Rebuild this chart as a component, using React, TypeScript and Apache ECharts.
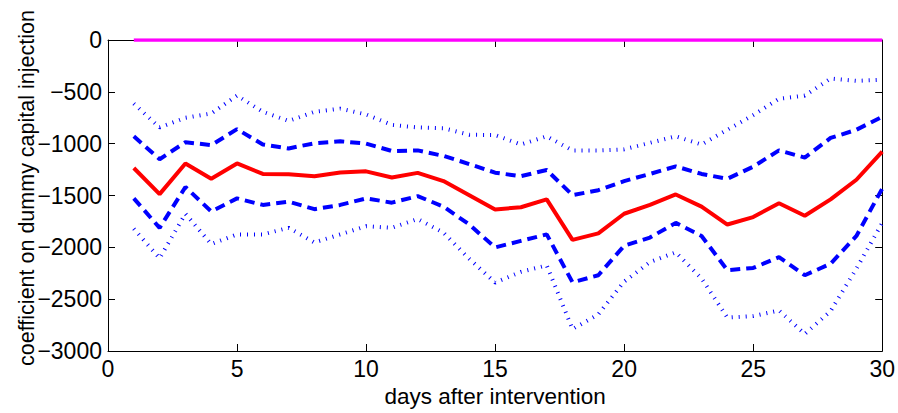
import React, { useEffect, useRef } from "react";
import * as echarts from "echarts";

const days = Array.from({ length: 30 }, (_, i) => i + 1);

const estimate = [
  -1235, -1487, -1191, -1339, -1191, -1292, -1295, -1314, -1279, -1267,
  -1326, -1282, -1361, -1497, -1635, -1613, -1537, -1928, -1865, -1676,
  -1591, -1490, -1607, -1780, -1708, -1575, -1695, -1537, -1348, -1077,
];

const upperDashed = [
  -929, -1150, -986, -1014, -860, -1008, -1046, -996, -977, -999,
  -1071, -1065, -1118, -1197, -1280, -1314, -1254, -1497, -1449, -1361,
  -1292, -1219, -1292, -1339, -1222, -1065, -1134, -945, -866, -740,
];

const lowerDashed = [
  -1528, -1812, -1418, -1654, -1528, -1591, -1560, -1632, -1591, -1528,
  -1569, -1506, -1607, -1780, -2001, -1938, -1875, -2338, -2269, -1985,
  -1906, -1764, -1890, -2221, -2199, -2095, -2269, -2158, -1890, -1434,
];

const upperDotted = [
  -614, -844, -750, -709, -536, -693, -781, -693, -662, -718,
  -819, -844, -851, -914, -917, -1008, -929, -1065, -1065, -1055,
  -992, -929, -1008, -866, -725, -567, -536, -372, -394, -384,
];

const lowerDotted = [
  -1821, -2105, -1676, -1969, -1875, -1875, -1812, -1953, -1875, -1796,
  -1812, -1726, -1859, -2111, -2340, -2237, -2174, -2788, -2647, -2331,
  -2142, -2048, -2300, -2678, -2663, -2609, -2836, -2615, -2206, -1765,
];

const zeroLine = days.map(() => 0);

const xTicks = [0, 5, 10, 15, 20, 25, 30];
const yTicks = [0, -500, -1000, -1500, -2000, -2500, -3000];

const xTitle = "days after intervention";
const yTitle = "coefficient on dummy capital injection";

const FONT = "'Liberation Sans', Arial, sans-serif";

function pairs(vals: number[]) {
  return days.map((d, i) => [d, vals[i]]);
}

export default function App() {
  const ref = useRef<HTMLDivElement>(null);
  useEffect(() => {
    if (!ref.current) return;
    document.body.style.margin = "0";
    document.body.style.overflow = "hidden";
    document.documentElement.style.overflow = "hidden";
    const chart = echarts.init(ref.current, null, { renderer: "svg", width: 898, height: 413 });
    const axisLine = { show: true, onZero: false, lineStyle: { color: "#000", width: 1 } };
    const tick = { show: true, inside: true, length: 7, lineStyle: { color: "#000", width: 1 } };
    chart.setOption({
      animation: false,
      backgroundColor: "#fff",
      grid: { left: 108, right: 13, top: 40, bottom: 56, containLabel: false },
      xAxis: [
        {
          type: "value",
          min: xTicks[0],
          max: xTicks[xTicks.length - 1],
          interval: 5,
          position: "bottom",
          axisLine,
          axisTick: tick,
          splitLine: { show: false },
          axisLabel: { color: "#000", fontSize: 23, fontFamily: FONT, margin: 6 },
          name: xTitle,
          nameLocation: "middle",
          nameGap: 34,
          nameTextStyle: { color: "#000", fontSize: 22.5, fontFamily: FONT },
        },
        {
          type: "value",
          min: xTicks[0],
          max: xTicks[xTicks.length - 1],
          interval: 5,
          position: "top",
          axisLine,
          axisTick: tick,
          splitLine: { show: false },
          axisLabel: { show: false },
        },
      ],
      yAxis: [
        {
          type: "value",
          min: yTicks[yTicks.length - 1],
          max: yTicks[0],
          interval: 500,
          position: "left",
          axisLine,
          axisTick: tick,
          splitLine: { show: false },
          axisLabel: {
            color: "#000",
            fontSize: 23,
            fontFamily: FONT,
            margin: 6,
            formatter: (v: number) => String(v).replace("-", "\u2212"),
          },
        },
        {
          type: "value",
          min: yTicks[yTicks.length - 1],
          max: yTicks[0],
          interval: 500,
          position: "right",
          axisLine,
          axisTick: tick,
          splitLine: { show: false },
          axisLabel: { show: false },
        },
      ],
      graphic: [
        {
          type: "text",
          x: 27,
          y: 188,
          rotation: Math.PI / 2,
          style: {
            text: yTitle,
            fill: "#000",
            fontSize: 21.5,
            fontFamily: FONT,
            align: "center",
            verticalAlign: "middle",
          },
        },
      ],
      series: [
        {
          type: "line",
          data: pairs(upperDotted),
          symbol: "none",
          lineStyle: { color: "#0000ff", width: 4, type: [1, 6], cap: "butt" },
        },
        {
          type: "line",
          data: pairs(lowerDotted),
          symbol: "none",
          lineStyle: { color: "#0000ff", width: 4, type: [1, 6], cap: "butt" },
        },
        {
          type: "line",
          data: pairs(upperDashed),
          symbol: "none",
          lineStyle: { color: "#0000ff", width: 4, type: [10, 6], cap: "butt" },
        },
        {
          type: "line",
          data: pairs(lowerDashed),
          symbol: "none",
          lineStyle: { color: "#0000ff", width: 4, type: [10, 6], cap: "butt" },
        },
        {
          type: "line",
          data: pairs(estimate),
          symbol: "none",
          lineStyle: { color: "#ff0000", width: 4, type: "solid" },
        },
        {
          type: "line",
          data: pairs(zeroLine),
          symbol: "none",
          lineStyle: { color: "#ff00ff", width: 3.5, type: "solid" },
        },
      ],
    });
    return () => chart.dispose();
  }, []);
  return (
    <div
      ref={ref}
      style={{ position: "absolute", left: 0, top: 0, width: 898, height: 413, overflow: "hidden" }}
    />
  );
}
